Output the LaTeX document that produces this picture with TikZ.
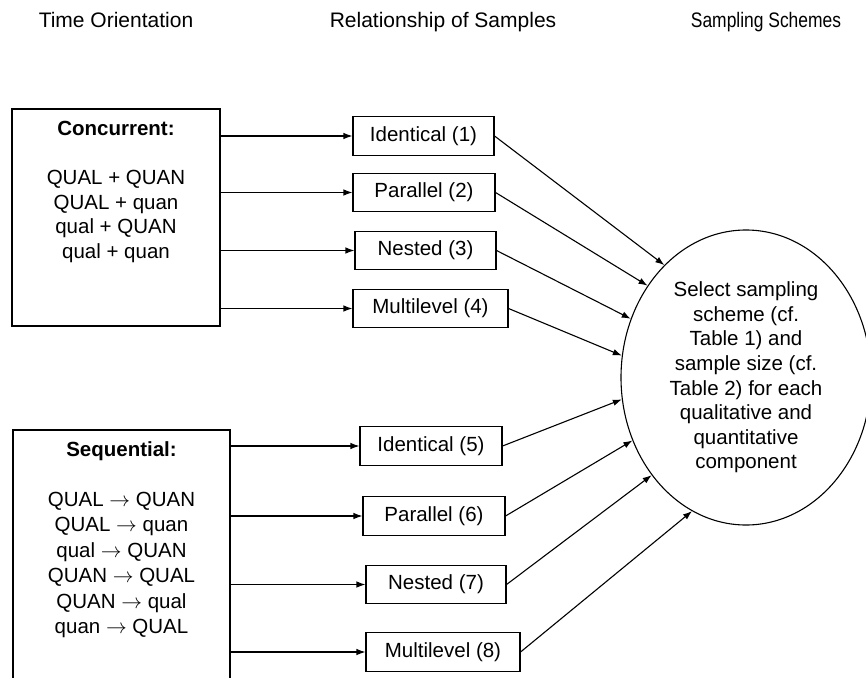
\documentclass[tikz,border=0pt]{standalone}
\usepackage{fontspec}
\setmainfont{Liberation Sans}
\usetikzlibrary{arrows.meta,shapes.geometric}
\begin{document}
\begin{tikzpicture}[x=1pt,y=-1pt,
  lbl/.style={font=\fontsize{20.5}{24.5}\selectfont, inner sep=0pt},
  hdr/.style={font=\fontsize{21}{25}\selectfont, inner sep=0pt, anchor=base},
  smallbox/.style={draw, line width=1.1pt, minimum height=38.5pt, inner sep=0pt, font=\fontsize{20.5}{24.5}\selectfont},
  bigbox/.style={draw, line width=1.1pt, inner sep=0pt},
  arr/.style={line width=1.1pt, -{Latex[length=9pt,width=6.5pt]}},
]
\useasboundingbox (0,0) rectangle (866,677);
\fill[white] (0,0) rectangle (866,677);

% headers
\node[hdr] (h1) at (116,27.5) {Time Orientation};
\node[hdr] (h2) at (443,27.5) {Relationship of Samples};
\node[hdr] (h3) at (766,27.5) {\scalebox{0.83}[1]{Sampling Schemes}};

% big boxes
\node[bigbox, minimum width=208pt, minimum height=217pt] (conc) at (116,217.5) {};
\node[bigbox, minimum width=217pt, minimum height=270pt] (seq) at (121.5,565) {};

\node[lbl, align=center, anchor=north] (conctxt) at (116,121)
  {\textbf{Concurrent:}\\[24.5pt]QUAL + QUAN\\QUAL + quan\\qual + QUAN\\qual + quan};
\node[lbl, font=\fontsize{20.5}{25.5}\selectfont, align=center, anchor=north] (seqtxt) at (121.5,441)
  {\textbf{Sequential:}\\[24.5pt]QUAL $\rightarrow$ QUAN\\QUAL $\rightarrow$ quan\\qual $\rightarrow$ QUAN\\QUAN $\rightarrow$ QUAL\\QUAN $\rightarrow$ qual\\quan $\rightarrow$ QUAL};

% relationship boxes
\node[smallbox, minimum width=141pt] (b1) at (423.5,136) {Identical (1)};
\node[smallbox, minimum width=142pt] (b2) at (424,192.5) {Parallel (2)};
\node[smallbox, minimum width=141pt] (b3) at (425.5,250.5) {Nested (3)};
\node[smallbox, minimum width=155pt] (b4) at (430.5,308.5) {Multilevel (4)};
\node[smallbox, minimum width=142pt] (b5) at (431,446) {Identical (5)};
\node[smallbox, minimum width=142pt] (b6) at (434,516) {Parallel (6)};
\node[smallbox, minimum width=140pt] (b7) at (436,584.5) {Nested (7)};
\node[smallbox, minimum width=154pt] (b8) at (443,652) {Multilevel (8)};

% ellipse
\node[draw, ellipse, line width=1.1pt, minimum width=250pt, minimum height=295pt, inner sep=0pt,
      align=center, font=\fontsize{20.5}{24.6}\selectfont] (sel) at (746,377.5)
  {Select sampling\\scheme (cf.\\Table 1) and\\sample size (cf.\\Table 2) for each\\qualitative and\\quantitative\\component};

% arrows into relationship boxes
\foreach \b in {b1,b2,b3,b4} \draw[arr] (conc.east |- \b.west) -- (\b.west);
\foreach \b in {b5,b6,b7,b8} \draw[arr] (seq.east |- \b.west) -- (\b.west);

% arrows into ellipse
\draw[arr] (b1.east) -- (sel.126.7);
\draw[arr] (b2.east) -- (sel.137.5);
\draw[arr] (b3.east) -- (sel.153);
\draw[arr] (b4.east) -- (sel.170.8);
\draw[arr] (b5.east) -- (sel.190);
\draw[arr] (b6.east) -- (sel.209.5);
\draw[arr] (b7.east) -- (sel.226.6);
\draw[arr] (b8.east) -- (sel.248.1);
\end{tikzpicture}
\end{document}
